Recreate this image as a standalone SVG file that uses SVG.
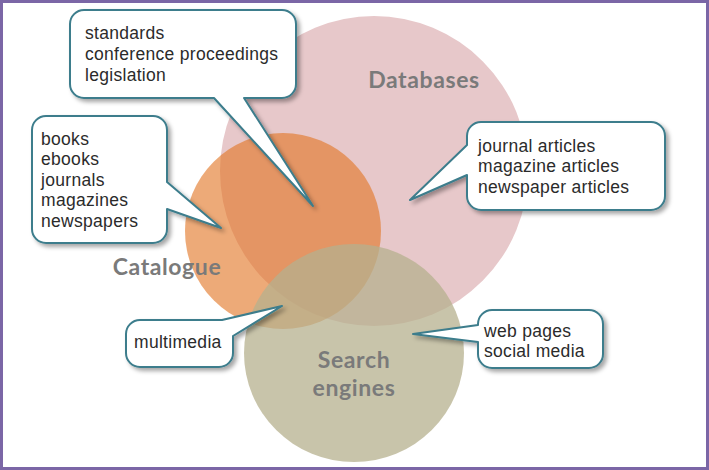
<svg xmlns="http://www.w3.org/2000/svg" width="709" height="470" viewBox="0 0 709 470">
<defs>
<filter id="sh" x="-20%" y="-20%" width="140%" height="140%">
<feDropShadow dx="3" dy="3" stdDeviation="2" flood-color="#000" flood-opacity="0.35"/>
</filter>
</defs>
<style>
.callout{fill:#fff;stroke:#3c7d8c;stroke-width:2;stroke-linejoin:round;filter:url(#sh)}
.ct{font-family:"Liberation Sans",Arial,sans-serif;font-size:17.5px;letter-spacing:0.3px;fill:#2b2b2b}
.lbl{font-family:Lato,"Open Sans",sans-serif;font-weight:700;font-size:23px;letter-spacing:0.6px;fill:#7a7a7a;text-anchor:middle}
</style>
<rect x="0" y="0" width="709" height="470" fill="#fff"/>
<g id="databases">
<ellipse cx="374" cy="171" rx="154" ry="155" fill="#e7c8ca"/>
<text class="lbl" x="424" y="88">Databases</text>
</g>
<g id="catalogue">
<ellipse cx="283" cy="231" rx="98" ry="98" fill="rgb(226,118,37)" fill-opacity="0.62"/>
<text class="lbl" x="167" y="275">Catalogue</text>
</g>
<g id="search-engines">
<ellipse cx="354" cy="353" rx="110" ry="109" fill="rgb(182,176,142)" fill-opacity="0.75"/>
<text class="lbl" x="354" y="368">Search</text>
<text class="lbl" x="354" y="396">engines</text>
</g>
<g id="callout-standards">
<path class="callout" d="M84,10 H282 A14,14 0 0 1 296,24 V84 A14,14 0 0 1 282,98 H244 L313,206 L214,98 H84 A14,14 0 0 1 70,84 V24 A14,14 0 0 1 84,10 Z"/>
<text class="ct" x="85" y="39">standards</text>
<text class="ct" x="85" y="60">conference proceedings</text>
<text class="ct" x="85" y="81">legislation</text>
</g>
<g id="callout-books">
<path class="callout" d="M46,116 H153 A14,14 0 0 1 167,130 V182 L221,228 L167,209 V229 A14,14 0 0 1 153,243 H46 A14,14 0 0 1 32,229 V130 A14,14 0 0 1 46,116 Z"/>
<text class="ct" x="41" y="145">books</text>
<text class="ct" x="41" y="165">ebooks</text>
<text class="ct" x="41" y="186">journals</text>
<text class="ct" x="41" y="206">magazines</text>
<text class="ct" x="41" y="227">newspapers</text>
</g>
<g id="callout-articles">
<path class="callout" d="M481,122 H651 A14,14 0 0 1 665,136 V196 A14,14 0 0 1 651,210 H481 A14,14 0 0 1 467,196 V175 L410,200 L467,145 V136 A14,14 0 0 1 481,122 Z"/>
<text class="ct" x="478" y="152">journal articles</text>
<text class="ct" x="478" y="172">magazine articles</text>
<text class="ct" x="478" y="193">newspaper articles</text>
</g>
<g id="callout-multimedia">
<path class="callout" d="M140,320 H222 L282,306 L233,336 V353 A14,14 0 0 1 219,367 H140 A14,14 0 0 1 126,353 V334 A14,14 0 0 1 140,320 Z"/>
<text class="ct" x="134" y="348">multimedia</text>
</g>
<g id="callout-web">
<path class="callout" d="M492,310 H589 A14,14 0 0 1 603,324 V354 A14,14 0 0 1 589,368 H492 A14,14 0 0 1 478,354 V342 L413,334 L478,325 V324 A14,14 0 0 1 492,310 Z"/>
<text class="ct" x="484" y="337">web pages</text>
<text class="ct" x="484" y="357">social media</text>
</g>
<rect x="1.5" y="1.5" width="706" height="467" fill="none" stroke="#7b66a6" stroke-width="3"/>
</svg>
